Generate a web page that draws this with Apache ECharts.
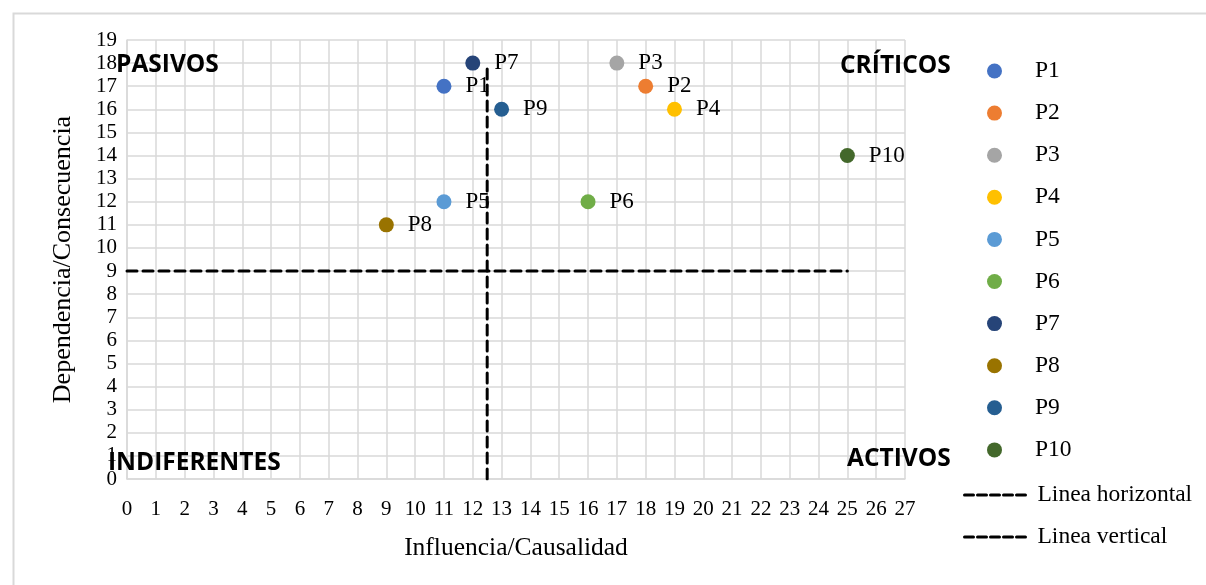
<!DOCTYPE html>
<html>
<head>
<meta charset="utf-8">
<script src="https://cdn.jsdelivr.net/npm/echarts@6/dist/echarts.min.js"></script>
<style>
  html, body { margin: 0; padding: 0; background: #fff; }
  #main { width: 1206px; height: 585px; }
</style>
</head>
<body>
<div id="main"></div>
<script>
// datos de la matriz
var puntos = ["P1", "P2", "P3", "P4", "P5", "P6", "P7", "P8", "P9", "P10"];
var influencia = [11, 18, 17, 19, 11, 16, 12, 9, 13, 25];
var dependencia = [17, 17, 18, 16, 12, 12, 18, 11, 16, 14];
var colores = ["#4472C4", "#ED7D31", "#A5A5A5", "#FFC000", "#5B9BD5", "#70AD47", "#264478", "#997300", "#255E91", "#43682B"];

// lineas de corte
var lineaHorizontalX = [0, 25];
var lineaHorizontalY = [9, 9];
var lineaVerticalX = [12.5, 12.5];
var lineaVerticalY = [0, 18];

var xMax = 27;
var yMax = 19;

var serif = "Liberation Serif";
var myChart = echarts.init(document.getElementById("main"));

var series = puntos.map(function (p, i) {
  return {
    name: p,
    type: "scatter",
    z: 2,
    symbol: "circle",
    symbolSize: 15,
    itemStyle: { color: colores[i], opacity: 1 },
    label: {
      show: true,
      position: "right",
      distance: 14,
      formatter: "{a}",
      fontFamily: serif,
      fontSize: 23,
      color: "#000"
    },
    data: [[influencia[i], dependencia[i]]]
  };
});

series.push({
  name: "Linea horizontal",
  type: "line",
  z: 5,
  symbol: "none",
  itemStyle: { color: "#000" },
  lineStyle: { color: "#000", width: 3, type: [10, 6], cap: "round" },
  data: lineaHorizontalX.map(function (x, i) { return [x, lineaHorizontalY[i]]; })
});
series.push({
  name: "Linea vertical",
  type: "line",
  z: 5,
  symbol: "none",
  itemStyle: { color: "#000" },
  lineStyle: { color: "#000", width: 3, type: [10, 6], cap: "round" },
  data: lineaVerticalX.map(function (x, i) { return [x, lineaVerticalY[i]]; })
});

var etiqueta = function (txt, x, y) {
  return {
    type: "text",
    x: x,
    y: y,
    z: 10,
    style: {
      text: txt,
      fontFamily: "Open Sans",
      fontWeight: "bold",
      fontSize: 24.5,
      fill: "#000",
      align: "left",
      verticalAlign: "middle"
    }
  };
};

var option = {
  animation: false,
  backgroundColor: "#fff",
  grid: { left: 127, right: 301, top: 40, bottom: 106 },
  xAxis: {
    type: "value",
    min: 0,
    max: xMax,
    interval: 1,
    name: "Influencia/Causalidad",
    nameLocation: "middle",
    nameGap: 56,
    nameTextStyle: { fontFamily: serif, fontSize: 25.5, color: "#000" },
    axisLine: { show: true, lineStyle: { color: "#d9d9d9", width: 1.5 } },
    axisTick: { show: false },
    axisLabel: { fontFamily: serif, fontSize: 21, color: "#000", margin: 20 },
    splitLine: { show: true, lineStyle: { color: "#d9d9d9", width: 1.5 } }
  },
  yAxis: {
    type: "value",
    min: 0,
    max: yMax,
    interval: 1,
    name: "Dependencia/Consecuencia",
    nameLocation: "middle",
    nameGap: 51,
    nameTextStyle: { fontFamily: serif, fontSize: 26, color: "#000" },
    axisLine: { show: true, lineStyle: { color: "#d9d9d9", width: 1.5 } },
    axisTick: { show: false },
    axisLabel: { fontFamily: serif, fontSize: 21, color: "#000", margin: 10 },
    splitLine: { show: true, lineStyle: { color: "#d9d9d9", width: 1.5 } }
  },
  legend: [
    {
      orient: "vertical",
      left: 982,
      top: 54,
      itemWidth: 15,
      itemHeight: 15,
      itemGap: 18.1,
      data: puntos,
      textStyle: { fontFamily: serif, fontSize: 23.5, color: "#000", padding: [0, 0, 0, 28] }
    },
    {
      orient: "vertical",
      left: 958,
      top: 478,
      itemWidth: 64,
      itemHeight: 15,
      itemGap: 18.1,
      itemStyle: { opacity: 0 },
      lineStyle: { width: 3, type: [9, 4], color: "#000" },
      data: ["Linea horizontal", "Linea vertical"],
      textStyle: { fontFamily: serif, fontSize: 23.5, color: "#000", padding: [0, 0, 0, 4] }
    }
  ],
  graphic: [
    {
      type: "rect",
      left: 11,
      top: 11,
      z: -10,
      shape: { width: 1300, height: 700 },
      style: { fill: "none", stroke: "#d9d9d9", lineWidth: 2 }
    },
    etiqueta("PASIVOS", 116, 65),
    etiqueta("CRÍTICOS", 840, 66),
    etiqueta("INDIFERENTES", 108, 463),
    etiqueta("ACTIVOS", 847, 459)
  ],
  series: series
};

myChart.setOption(option);
</script>
</body>
</html>
